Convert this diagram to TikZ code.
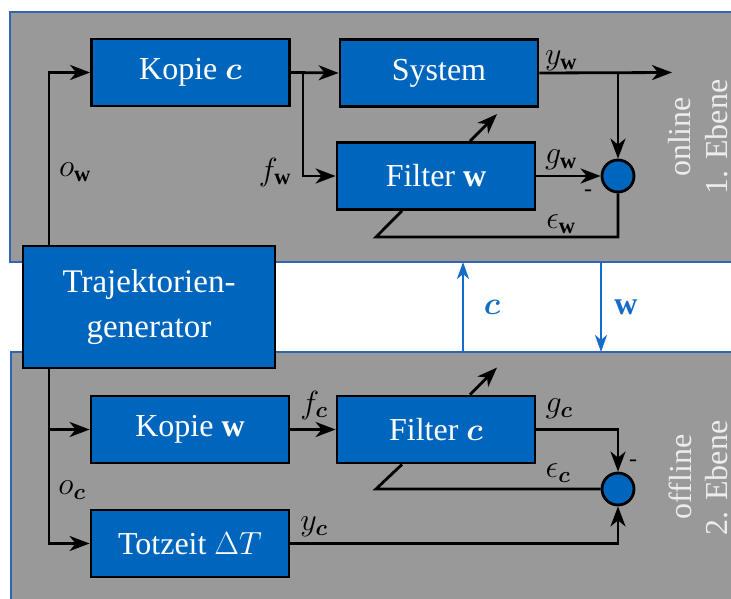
\RequirePackage{fix-cm}
\documentclass[tikz,border=0pt]{standalone}
\usepackage{amsmath}
\usepackage{bm}
\usepackage{fontspec}
\setmainfont{Liberation Serif}
\usetikzlibrary{arrows.meta}
\definecolor{boxblue}{RGB}{0,102,189}
\definecolor{arrblue}{RGB}{20,108,200}
\definecolor{panelgray}{RGB}{153,153,153}
\definecolor{panelblue}{RGB}{50,100,180}
\definecolor{sidegray}{RGB}{236,236,236}
\tikzset{
  blk/.style={draw=black, line width=2.8pt, fill=boxblue, text=white, inner sep=0pt,
    font=\fontsize{32}{38}\selectfont, minimum width=198pt, minimum height=67pt},
  sumc/.style={circle, draw=black, line width=2.8pt, fill=boxblue, inner sep=0pt, minimum size=32pt},
  lab/.style={font=\fontsize{32}{38}\selectfont, inner sep=0pt},
  bluelab/.style={font=\fontsize{32}{38}\selectfont, inner sep=0pt, text=arrblue},
  minus/.style={font=\fontsize{24}{24}\selectfont, inner sep=0pt},
  side/.style={font=\fontsize{32}{38}\selectfont, inner sep=0pt, text=sidegray, rotate=90},
  conn/.style={draw=black, line width=2.8pt},
  arr/.style={conn, -{Stealth[length=20pt,width=15pt,inset=6pt]}},
  barr/.style={draw=arrblue, line width=2.5pt, -{Stealth[length=17pt,width=12pt,inset=5pt]}},
  panel/.style={draw=panelblue, line width=1.5pt}
}
\begin{document}
\begin{tikzpicture}[x=1pt,y=-1pt]
\useasboundingbox (0,0) rectangle (731,599);
\clip (0,0) rectangle (731,599);
\fill[white] (0,0) rectangle (731,599);
% panels
\fill[panelgray] (10,12) rectangle (750,262);
\draw[panel] (750,12) -- (10,12) -- (10,262) -- (750,262);
\fill[panelgray] (11,352) rectangle (750,620);
\draw[panel] (750,352) -- (11,352) -- (11,620);
% blocks
\node[blk] (kc) at (190.5,72.5) {Kopie $\bm{c}$};
\node[blk] (sys) at (439,73) {System};
\node[blk] (fw) at (436,176) {Filter $\mathbf{w}$};
\node[sumc] (sw) at (618,176) {};
\node[blk, minimum width=252pt, minimum height=122pt, align=center,
  font=\fontsize{33}{45}\selectfont] (tg) at (149,307) {Trajektorien-\\generator};
\node[blk] (kw) at (190,429.5) {Kopie $\mathbf{w}$};
\node[blk] (fc) at (436,429.5) {Filter $\bm{c}$};
\node[sumc] (sc) at (618,489) {};
\node[blk] (tz) at (190,543.5) {Totzeit $\Delta T$};
% coordinates
\coordinate (tgt) at (49,246);
\coordinate (tgb) at (49,368);
\coordinate (br1) at (303,72.5);
\coordinate (yout) at (672,72.5);
\coordinate (fbw) at (376,237);
\coordinate (fbc) at (376,489);
\coordinate (cup0) at (463,352);
\coordinate (cup1) at (463,262);
\coordinate (wdn0) at (601,262);
\coordinate (wdn1) at (601,352);
% top connectors
\draw[arr] (tgt) |- (kc.west);
\draw[arr] (kc.east) -- (sys.west);
\draw[arr] (br1) |- (fw.west);
\draw[arr] (sys.east) -- (yout);
\draw[arr] (sw.north |- sys.east) -- (sw.north);
\draw[arr] (fw.east) -- (sw.west);
\draw[conn] (sw.south) |- (fbw) -- ([xshift=-34pt]fw.south);
\draw[arr] ([xshift=34pt]fw.north) -- ++(27,-27);
% middle
\draw[barr] (cup0) -- (cup1);
\draw[barr] (wdn0) -- (wdn1);
% bottom connectors
\draw[arr] (tgb) |- (kw.west);
\draw[arr] (tgb) |- (tz.west);
\draw[arr] (kw.east) -- (fc.west);
\draw[arr] (fc.east) -| (sc.north);
\draw[conn] (sc.west) -- (fbc) -- ([xshift=-34pt]fc.south);
\draw[arr] (tz.east) -| (sc.south);
\draw[arr] ([xshift=34pt]fc.north) -- ++(27,-27);
% labels
\node[lab] (lyw) at (561,61) {$y_{\mathbf{w}}$};
\node[lab] (lgw) at (561,160) {$g_{\mathbf{w}}$};
\node[lab] (lew) at (561,224) {$\epsilon_{\mathbf{w}}$};
\node[lab] (low) at (75,172) {$o_{\mathbf{w}}$};
\node[lab] (lfw) at (275,172) {$f_{\mathbf{w}}$};
\node[minus] (mw) at (588,193) {-};
\node[lab] (lfc) at (314,405) {$f_{\bm{c}}$};
\node[lab] (lgc) at (559,409) {$g_{\bm{c}}$};
\node[lab] (lec) at (558,473) {$\epsilon_{\bm{c}}$};
\node[lab] (lyc) at (314,527) {$y_{\bm{c}}$};
\node[lab] (loc) at (72,490) {$o_{\bm{c}}$};
\node[minus] (mc) at (633,463) {-};
\node[bluelab] (lc) at (492,307) {$\bm{c}$};
\node[bluelab] (lw) at (626,307) {$\mathbf{w}$};
\node[side] (on) at (680,137) {online};
\node[side] (e1) at (717,137) {1. Ebene};
\node[side] (off) at (680,477) {offline};
\node[side] (e2) at (717,478) {2. Ebene};
\end{tikzpicture}
\end{document}
